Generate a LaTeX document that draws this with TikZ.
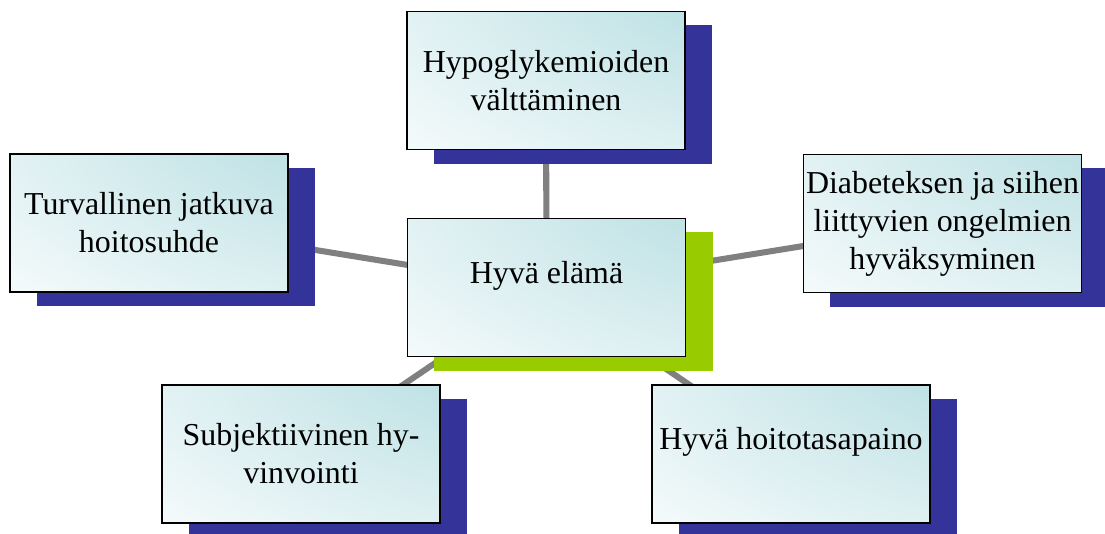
\documentclass[tikz,border=0pt]{standalone}
\usepackage{fontspec}
\setmainfont{Liberation Serif}
\usetikzlibrary{shadows,backgrounds}

\definecolor{shadowblue}{HTML}{333399}
\definecolor{shadowgreen}{HTML}{99CC00}
\definecolor{linkgray}{HTML}{808080}

% cyan glow from the upper right corner, white towards the lower left
\pgfdeclarefunctionalshading{boxglow}{\pgfpoint{-50bp}{-50bp}}{\pgfpoint{50bp}{50bp}}{}{
	50 exch sub 125 div dup mul exch 50 exch sub 115 div dup mul add sqrt
	1 exch sub 0.8 div dup 0 lt {pop 0} if dup 1 gt {pop 1} if
	dup 0.282 mul 1 exch sub exch dup 0.129 mul 1 exch sub exch 0.114 mul 1 exch sub
}

\tikzset{
	goalbox/.style={draw=black, line width=1.1pt, inner sep=0pt,
		minimum width=6.95cm, minimum height=3.45cm, align=center,
		font=\fontsize{22.7}{27}\selectfont, shade, shading=boxglow,
		drop shadow={shadow xshift=0.675cm, shadow yshift=-0.35cm, fill=#1, opacity=1}},
	goalbox/.default=shadowblue,
	link/.style={draw=linkgray, line width=4.3pt}
}
\newcommand{\upline}[1]{\raisebox{0.3cm}[\height][\depth]{#1}}

\begin{document}
\begin{tikzpicture}[x=0.025cm, y=-0.025cm]
		\useasboundingbox (0, 0) rectangle (1105, 533);
		\coordinate (M) at (546.5, 287.5);
		\coordinate (T) at (546, 80.5);
		\coordinate (L) at (149, 223);
		\coordinate (R) at (942.5, 223.5);
		\coordinate (BL) at (301, 454);
		\coordinate (BR) at (791, 454);
		
		\node[goalbox=shadowgreen] (life) at (M) {\upline{Hyvä elämä}};
		\node[goalbox] (hypo) at (T) {Hypoglykemioiden\\välttäminen};
		\node[goalbox] (care) at (L) {Turvallinen jatkuva\\hoitosuhde};
		\node[goalbox] (accept) at (R) {Diabeteksen ja siihen\\liittyvien ongelmien\\hyväksyminen};
		\node[goalbox] (wellbeing) at (BL) {Subjektiivinen hy-\\vinvointi};
		\node[goalbox] (balance) at (BR) {\upline{Hyvä hoitotasapaino}};
		
		\begin{scope}[on background layer]	% links go under the boxes
			\draw[link] (life.center) -- (hypo.center);
			\draw[link] (life.center) -- (care.center);
			\draw[link] (life.center) -- (accept.center);
			\draw[link] (life.center) -- (wellbeing.center);
			\draw[link] (life.center) -- (balance.center);
		\end{scope}
	\end{tikzpicture}
\end{document}
